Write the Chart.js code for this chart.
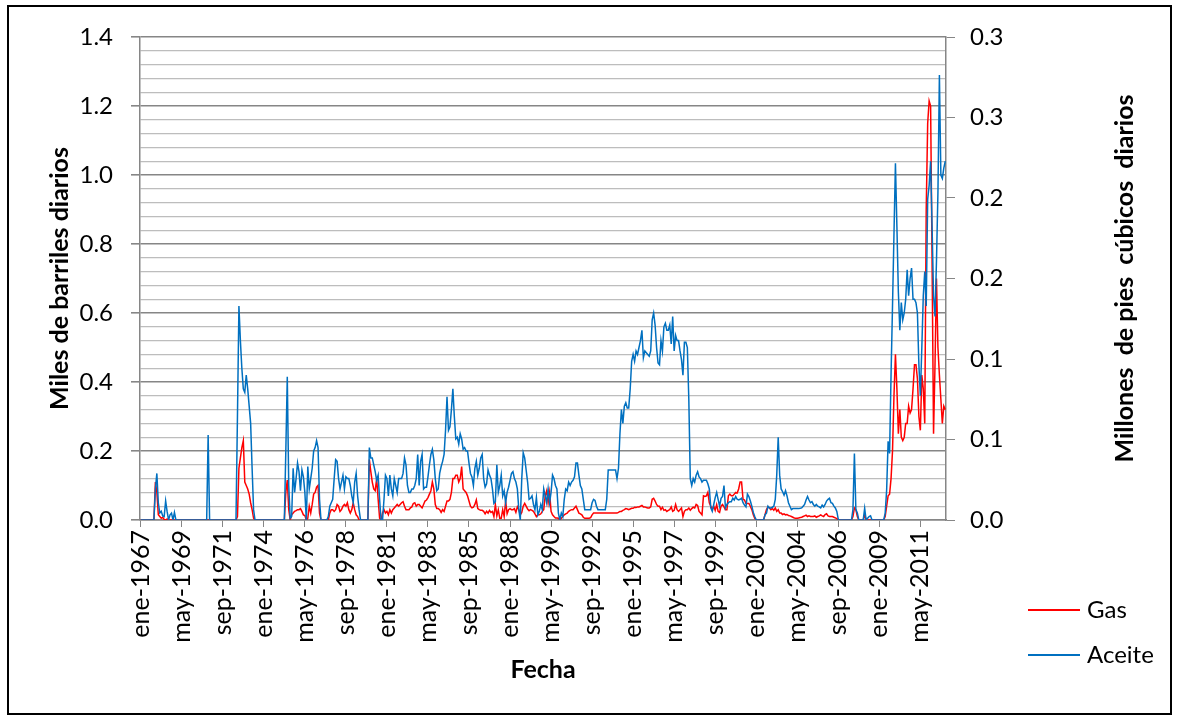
<!DOCTYPE html>
<html lang="es">
<head>
<meta charset="utf-8">
<title>Producción de gas y aceite</title>
<script src="https://cdn.jsdelivr.net/npm/chart.js@4.4.1/dist/chart.umd.min.js"></script>
<style>
  html, body { margin: 0; padding: 0; background: #fff; }
  #wrap { width: 1178px; height: 719px; }
</style>
</head>
<body>
<div id="wrap"><canvas id="grafica" width="1178" height="719"></canvas></div>
<script>
// meses de ene-1967 a oct-2012
const anioInicio = 1967;
const mesesAbrev = ['ene','feb','mar','abr','may','jun','jul','ago','sep','oct','nov','dic'];
const pasoEtiqueta = 28;   // una etiqueta cada 28 meses

// Aceite, miles de barriles diarios (una fila por año)
const aceite = [
  0,0,0,0,0,0,0,0,0,0,0.09,0.135,
  0.05,0.02,0.025,0.012,0.01,0.055,0.025,0,0.015,0.02,0,0.022,
  0,0,0,0,0,0,0,0,0,0,0,0,
  0,0,0,0,0,0,0,0,0,0,0.246,0,
  0,0,0,0,0,0,0,0,0,0,0,0,
  0,0,0,0,0,0,0.3,0.62,0.52,0.44,0.38,0.37,
  0.42,0.38,0.33,0.28,0.15,0.03,0,0,0,0,0,0,
  0,0,0,0,0,0,0,0,0,0,0,0,
  0,0,0,0.2,0.415,0.1,0.005,0.01,0.15,0.08,0.12,0.165,
  0.14,0.085,0.145,0.125,0.08,0,0.155,0.09,0.12,0.15,0.2,0.21,
  0.23,0.21,0.06,0,0,0,0,0,0.01,0.04,0.05,0.06,
  0.12,0.175,0.17,0.12,0.09,0.11,0.13,0.09,0.125,0.12,0.12,0.10,
  0.07,0.05,0.11,0.135,0.07,0.03,0,0,0,0,0,0,
  0.21,0.18,0.18,0.16,0.14,0.115,0.13,0.06,0,0,0.06,0.13,
  0.12,0.07,0.13,0.09,0.07,0.12,0.10,0.08,0.12,0.12,0.12,0.135,
  0.18,0.16,0.10,0.08,0.08,0.09,0.09,0.10,0.12,0.19,0.10,0.17,
  0.19,0.09,0.095,0.095,0.125,0.16,0.19,0.205,0.175,0.12,0.085,0.09,
  0.135,0.155,0.17,0.19,0.26,0.357,0.26,0.27,0.32,0.38,0.30,0.235,
  0.24,0.22,0.25,0.235,0.205,0.21,0.20,0.20,0.165,0.135,0.125,0.10,
  0.15,0.17,0.13,0.15,0.18,0.19,0.12,0.095,0.105,0.145,0.13,0.12,
  0.09,0.048,0.053,0.16,0.08,0.10,0.13,0.07,0.085,0.05,0.08,0.095,
  0.115,0.135,0.14,0.12,0.11,0.09,0.03,0,0.12,0.195,0.18,0.145,
  0.11,0.06,0.063,0.07,0.045,0.03,0.065,0.015,0.025,0.045,0.03,0.09,
  0.07,0.05,0.09,0.05,0.08,0.13,0.12,0.10,0.09,0.02,0,0.02,
  0.01,0.06,0.09,0.085,0.11,0.10,0.11,0.115,0.125,0.165,0.165,0.13,
  0.10,0.09,0.06,0.03,0.03,0.03,0.03,0.03,0.05,0.06,0.057,0.04,
  0.03,0.03,0.03,0.03,0.03,0.03,0.06,0.145,0.145,0.145,0.145,0.145,
  0.145,0.12,0.15,0.25,0.32,0.28,0.33,0.34,0.325,0.325,0.38,0.46,
  0.48,0.46,0.49,0.48,0.50,0.52,0.55,0.47,0.49,0.485,0.48,0.475,
  0.49,0.58,0.60,0.565,0.50,0.455,0.45,0.52,0.49,0.56,0.57,0.55,
  0.55,0.565,0.51,0.59,0.49,0.535,0.52,0.52,0.49,0.465,0.42,0.515,
  0.515,0.50,0.35,0.12,0.10,0.12,0.11,0.13,0.14,0.125,0.12,0.11,
  0.115,0.115,0.115,0.105,0.09,0.035,0.025,0.045,0.065,0.08,0.06,0.04,
  0.063,0.068,0.1,0.035,0.045,0.05,0.053,0.053,0.063,0.058,0.068,0.06,
  0.058,0.06,0.063,0.05,0.043,0.038,0.075,0.068,0.055,0.04,0.022,0.01,
  0,0,0,0,0,0,0.015,0.02,0.04,0.035,0.035,0.037,
  0.04,0.06,0.13,0.24,0.13,0.09,0.082,0.072,0.085,0.07,0.05,0.04,
  0.03,0.033,0.033,0.033,0.033,0.033,0.034,0.035,0.04,0.045,0.058,0.068,
  0.058,0.05,0.053,0.045,0.04,0.045,0.04,0.038,0.035,0.043,0.038,0.045,
  0.055,0.06,0.063,0.05,0.048,0.04,0.035,0.025,0.002,0,0,0,
  0,0,0,0,0,0,0.03,0.193,0.03,0.02,0,0,
  0,0,0.034,0,0.005,0.01,0.012,0,0,0,0,0,
  0,0,0,0,0.02,0.087,0.228,0.193,0.42,0.62,0.83,1.034,
  0.85,0.66,0.55,0.63,0.58,0.60,0.64,0.725,0.65,0.70,0.73,0.64,
  0.64,0.63,0.60,0.45,0.36,0.50,0.65,0.72,0.62,0.93,0.97,1.04,
  0.85,0.65,0.59,0.75,0.95,1.29,1.0,0.99,1.02,1.04
];

const gas = [
  0,0,0,0,0,0,0,0,0,0,0.11,0.08,
  0.015,0.01,0.005,0.008,0.002,0,0.003,0,0,0,0,0,
  0,0,0,0,0,0,0,0,0,0,0,0,
  0,0,0,0,0,0,0,0,0,0,0,0,
  0,0,0,0,0,0,0,0,0,0,0,0,
  0,0,0,0,0,0,0.01,0.15,0.18,0.21,0.23,0.11,
  0.10,0.09,0.075,0.05,0.03,0.005,0,0,0,0,0,0,
  0,0,0,0,0,0,0,0,0,0,0,0,
  0,0,0,0.08,0.116,0.03,0,0.015,0.02,0.025,0.027,0.03,
  0.03,0.033,0.025,0.015,0.013,0,0.005,0.04,0.02,0.045,0.075,0.08,
  0.095,0.1,0.02,0,0,0,0,0,0,0.02,0.03,0.03,
  0.025,0.03,0.045,0.04,0.025,0.03,0.04,0.045,0.04,0.05,0.03,0.02,
  0.03,0.05,0.03,0.015,0.01,0,0,0,0,0,0,0,
  0.175,0.14,0.11,0.09,0.085,0.12,0.06,0.005,0,0.02,0.03,0.02,
  0.025,0.015,0.03,0.02,0.03,0.035,0.04,0.045,0.04,0.045,0.05,0.053,
  0.04,0.03,0.03,0.03,0.035,0.038,0.048,0.05,0.04,0.045,0.045,0.04,
  0.035,0.045,0.055,0.058,0.065,0.075,0.085,0.11,0.09,0.045,0.033,0.033,
  0.03,0.022,0.03,0.025,0.04,0.055,0.055,0.06,0.08,0.12,0.12,0.13,
  0.13,0.11,0.12,0.155,0.09,0.085,0.08,0.07,0.055,0.04,0.035,0.037,
  0.045,0.058,0.033,0.03,0.028,0.028,0.025,0.018,0.025,0.02,0.028,0.022,
  0.025,0.01,0.045,0.012,0.03,0.005,0.005,0.03,0.01,0.055,0.018,0.03,
  0.033,0.03,0.03,0.033,0.022,0.038,0.03,0.015,0.022,0.04,0.048,0.04,
  0.032,0.027,0.03,0.028,0.025,0.018,0.01,0.015,0.015,0.018,0.025,0.03,
  0.07,0.085,0.05,0.08,0.025,0.015,0.01,0.006,0.006,0.005,0,0.005,
  0.01,0.015,0.018,0.02,0.025,0.028,0.03,0.03,0.035,0.04,0.03,0.02,
  0.018,0.015,0.008,0.005,0.005,0.005,0.005,0.007,0.015,0.02,0.02,0.02,
  0.02,0.02,0.02,0.02,0.02,0.02,0.02,0.02,0.02,0.02,0.02,0.02,
  0.02,0.02,0.022,0.025,0.025,0.028,0.03,0.033,0.032,0.03,0.032,0.034,
  0.034,0.037,0.036,0.038,0.038,0.04,0.042,0.038,0.038,0.036,0.035,0.035,
  0.038,0.06,0.063,0.055,0.045,0.04,0.04,0.03,0.037,0.028,0.03,0.025,
  0.028,0.03,0.038,0.025,0.028,0.045,0.03,0.025,0.03,0.035,0.01,0.025,
  0.03,0.03,0.035,0.028,0.033,0.037,0.035,0.045,0.042,0.025,0.02,0.015,
  0.07,0.068,0.07,0.08,0.05,0.04,0.03,0.04,0.028,0.045,0.025,0.022,
  0.04,0.045,0.038,0.03,0.03,0.07,0.075,0.07,0.07,0.075,0.08,0.078,
  0.09,0.11,0.11,0.06,0.058,0.048,0.048,0.048,0.04,0.03,0.015,0.005,
  0,0,0,0,0,0,0.015,0.03,0.038,0.035,0.03,0.033,
  0.028,0.035,0.025,0.03,0.02,0.02,0.016,0.018,0.015,0.016,0.013,0.012,
  0.01,0.008,0.006,0.005,0.005,0.006,0.007,0.008,0.01,0.012,0.014,0.01,
  0.012,0.01,0.01,0.01,0.012,0.008,0.01,0.012,0.015,0.012,0.01,0.016,
  0.018,0.012,0.01,0.01,0.01,0.008,0.006,0.004,0.001,0,0,0,
  0,0,0,0,0,0,0.01,0.035,0.03,0.01,0,0,
  0,0,0.015,0,0,0,0,0,0,0,0,0,
  0,0,0,0,0.01,0.04,0.07,0.075,0.12,0.2,0.36,0.48,
  0.38,0.25,0.32,0.24,0.23,0.24,0.28,0.28,0.33,0.31,0.32,0.38,
  0.45,0.45,0.41,0.30,0.26,0.42,0.38,0.28,0.9,1.15,1.215,1.2,
  0.75,0.25,0.45,0.70,0.50,0.42,0.35,0.28,0.33,0.32
];

// ejes
const ejeIzqMax = 1.4, ejeIzqPaso = 0.2, ejeIzqSubpaso = 0.04;
const ejeDerMax = 0.3, ejeDerPaso = 0.05;

const meses = [];
for (let i = 0; i < aceite.length; i++) {
  meses.push(mesesAbrev[i % 12] + '-' + (anioInicio + Math.floor(i / 12)));
}

const fuente = 'Lato, "Liberation Sans", sans-serif';
const gris = '#868686';
const esMayor = v => Math.abs(v / ejeIzqPaso - Math.round(v / ejeIzqPaso)) < 1e-6;

// recuadro exterior
const marco = {
  id: 'marco',
  afterDraw(chart) {
    const c = chart.ctx;
    c.save();
    c.strokeStyle = '#000';
    c.lineWidth = 2;
    c.strokeRect(8, 6, 1163, 708);
    c.restore();
  }
};

// titulo del eje derecho (se lee de abajo hacia arriba)
const tituloDerecho = {
  id: 'tituloDerecho',
  afterDraw(chart) {
    const c = chart.ctx;
    c.save();
    c.translate(1125, (chart.chartArea.top + chart.chartArea.bottom) / 2);
    c.rotate(-Math.PI / 2);
    c.font = 'bold 25px ' + fuente;
    c.fillStyle = '#000';
    c.textAlign = 'center';
    c.textBaseline = 'middle';
    c.fillText('Millones  de pies  cúbicos  diarios', 0, 0);
    c.restore();
  }
};

// leyenda a la derecha, abajo
const leyenda = {
  id: 'leyenda',
  afterDraw(chart) {
    const c = chart.ctx;
    c.save();
    c.font = '24px ' + fuente;
    c.textBaseline = 'middle';
    c.fillStyle = '#000';
    chart.data.datasets.forEach((ds, k) => {
      const y = 610 + k * 45;
      c.strokeStyle = ds.borderColor;
      c.lineWidth = 2;
      c.beginPath();
      c.moveTo(1028, y);
      c.lineTo(1080, y);
      c.stroke();
      c.fillText(ds.label, 1087, y);
    });
    c.restore();
  }
};

const ctx = document.getElementById('grafica').getContext('2d');
const chart = new Chart(ctx, {
  type: 'line',
  data: {
    labels: meses,
    datasets: [{
      label: 'Gas',
      data: gas,
      borderColor: '#FF0000',
      borderWidth: 1.5,
      pointRadius: 0,
      tension: 0,
      order: 2
    }, {
      label: 'Aceite',
      data: aceite,
      borderColor: '#0070C0',
      borderWidth: 1.5,
      pointRadius: 0,
      tension: 0,
      order: 1
    }]
  },
  options: {
    responsive: false,
    animation: false,
    events: [],
    layout: { padding: { top: 37, left: 0, right: 0, bottom: 0 } },
    plugins: { legend: { display: false }, tooltip: { enabled: false } },
    scales: {
      x: {
        offset: true,
        grid: {
          drawOnChartArea: false,
          tickLength: 7,
          color: c => (c.index % pasoEtiqueta === 0 ? gris : 'rgba(0,0,0,0)')
        },
        border: { color: gris, width: 1.5 },
        ticks: {
          autoSkip: false,
          minRotation: 90,
          maxRotation: 90,
          padding: 3,
          color: '#000',
          font: { family: fuente, size: 25 },
          callback: function(v, i) { return i % pasoEtiqueta === 0 ? this.getLabelForValue(v) : ''; }
        },
        title: {
          display: true, text: 'Fecha', color: '#000',
          font: { family: fuente, size: 25, weight: 'bold' },
          padding: { top: 0, bottom: 34 }
        },
        afterFit: s => { s.height = 199; }
      },
      y: {
        min: 0,
        max: ejeIzqMax,
        afterBuildTicks: s => {
          const n = Math.round(ejeIzqMax / ejeIzqSubpaso);
          s.ticks = [];
          for (let k = 0; k <= n; k++) s.ticks.push({ value: +(k * ejeIzqSubpaso).toFixed(2) });
        },
        ticks: {
          autoSkip: false,
          padding: 18,
          color: '#000',
          font: { family: fuente, size: 24 },
          callback: v => (esMayor(v) ? v.toFixed(1) : '')
        },
        grid: {
          color: c => (esMayor(c.tick.value) ? gris : '#bdbdbd'),
          lineWidth: c => (esMayor(c.tick.value) ? 1.6 : 1.3),
          tickLength: 9,
          tickColor: c => (esMayor(c.tick.value) ? gris : 'rgba(0,0,0,0)')
        },
        border: { color: gris, width: 1.5 },
        title: {
          display: true, text: 'Miles de barriles diarios', color: '#000',
          font: { family: fuente, size: 25, weight: 'bold' },
          padding: { top: 45, bottom: 0 }
        },
        afterFit: s => { s.width = 140; }
      },
      y1: {
        position: 'right',
        min: 0,
        max: ejeDerMax,
        afterBuildTicks: s => {
          const n = Math.round(ejeDerMax / ejeDerPaso);
          s.ticks = [];
          for (let k = 0; k <= n; k++) s.ticks.push({ value: +(k * ejeDerPaso).toFixed(2) });
        },
        ticks: {
          autoSkip: false,
          padding: 15,
          color: '#000',
          font: { family: fuente, size: 24 },
          callback: v => (Math.round(v * 10 + 1e-9) / 10).toFixed(1)
        },
        grid: { drawOnChartArea: false, tickLength: 9, color: gris },
        border: { color: gris, width: 1.5 },
        afterFit: s => { s.width = 232; }
      }
    }
  },
  plugins: [marco, tituloDerecho, leyenda]
});
</script>
</body>
</html>
